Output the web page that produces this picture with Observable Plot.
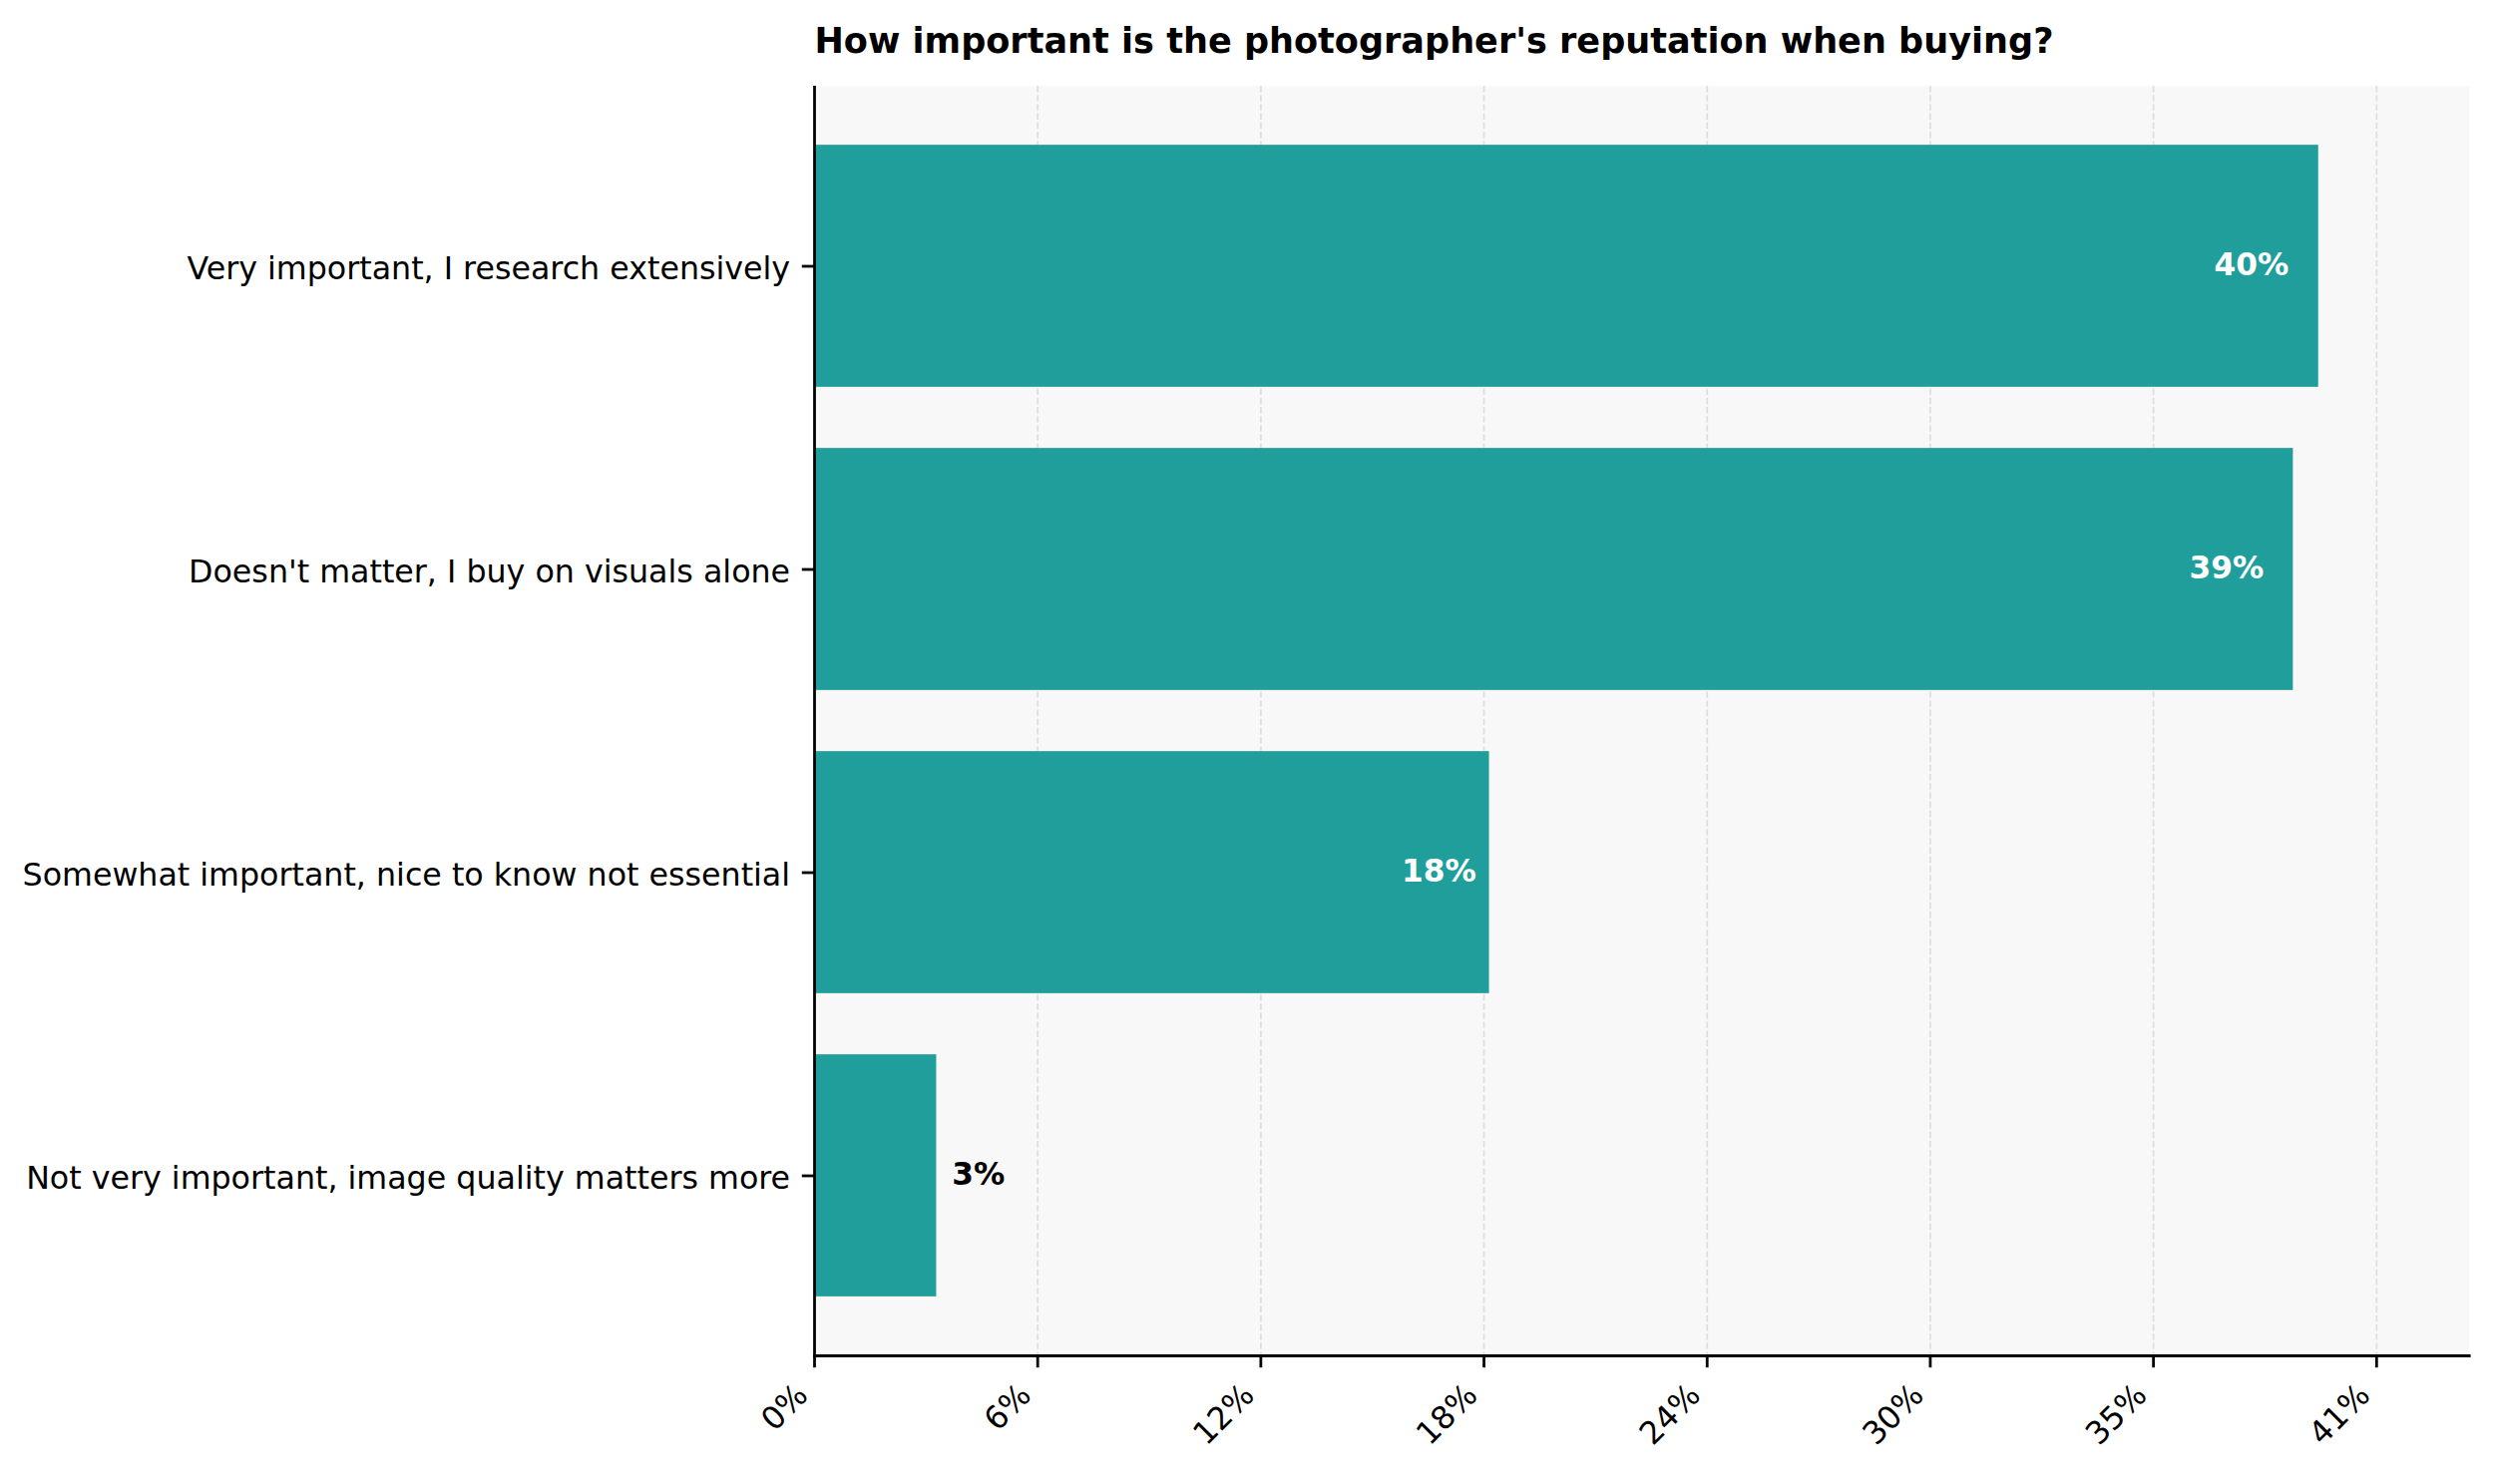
<!DOCTYPE html>
<html>
<head>
<meta charset="utf-8">
<script src="https://cdn.jsdelivr.net/npm/d3@7"></script>
<script src="https://cdn.jsdelivr.net/npm/@observablehq/plot@0.6"></script>
<style>
  html, body { margin: 0; padding: 0; background: #ffffff; }
  #chart svg { display: block; }
</style>
</head>
<body>
<div id="chart"></div>
<script>
const title = "How important is the photographer's reputation when buying?";
const categories = [
  "Very important, I research extensively",
  "Doesn't matter, I buy on visuals alone",
  "Somewhat important, nice to know not essential",
  "Not very important, image quality matters more"
];
const values = [39.84, 39.17, 17.88, 3.24];
const xTickValues = [0, 5.91, 11.82, 17.73, 23.64, 29.55, 35.46, 41.37];
const xTickLabels = ["0%", "6%", "12%", "18%", "24%", "30%", "35%", "41%"];

const data = categories.map((c, i) => ({category: c, value: values[i], label: Math.round(values[i]) + "%"}));
const maxV = d3.max(values);
const inside = data.filter(d => d.value > maxV * 0.15);
const outside = data.filter(d => d.value <= maxV * 0.15);

const teal = "#1f9e9b";
const lw = 2.78;
const fs = 31.25;
const fsY = 31.7;

const chart = Plot.plot({
  width: 2500,
  height: 1488,
  marginLeft: 816,
  marginRight: 25.3,
  marginTop: 86,
  marginBottom: 129,
  style: {fontFamily: "DejaVu Sans", background: "#ffffff", overflow: "visible", color: "#000000"},
  x: {domain: [0, maxV * 1.1]},
  y: {domain: categories, paddingInner: 0.2, paddingOuter: 0.19},
  marks: [
    Plot.frame({fill: "#f8f8f8", stroke: null}),
    Plot.gridX(xTickValues.slice(1), {stroke: "#dedede", strokeOpacity: 1, strokeWidth: 1.74, strokeDasharray: "6.4,2.8"}),
    Plot.barX(data, {x: "value", y: "category", fill: teal, stroke: "#ffffff", strokeOpacity: 0.3, strokeWidth: 1}),
    Plot.ruleX([0], {stroke: "#000000", strokeWidth: lw}),
    Plot.frame({anchor: "bottom", stroke: "#000000", strokeWidth: lw}),
    Plot.axisX({ticks: xTickValues, tickSize: 12.2, strokeWidth: lw, stroke: "#000000", fill: "none", label: null}),
    Plot.text(xTickValues, {
      x: d => d,
      text: (d, i) => xTickLabels[i],
      frameAnchor: "bottom",
      rotate: -45,
      textAnchor: "end",
      lineAnchor: "bottom",
      dx: -4.9,
      dy: 41.3,
      fontSize: 31.6,
      fill: "#000000"
    }),
    Plot.axisY({tickSize: 12.2, strokeWidth: lw, stroke: "#000000", fill: "none", label: null}),
    Plot.axisY({tickSize: 12.2, tickPadding: 12.2, stroke: "none", fill: "#000000", fontSize: fsY, dy: 2.4, label: null}),
    Plot.text(inside, {
      x: d => d.value * 0.98,
      y: "category",
      text: "label",
      textAnchor: "end",
      lineAnchor: "middle",
      dy: -1,
      fill: "#ffffff",
      fontWeight: "bold",
      fontSize: fs
    }),
    Plot.text(outside, {
      x: d => d.value + maxV * 0.01,
      y: "category",
      text: "label",
      textAnchor: "start",
      lineAnchor: "middle",
      dy: -1,
      fill: "#000000",
      fontWeight: "bold",
      fontSize: fs
    }),
    Plot.text([title], {
      text: d => d,
      frameAnchor: "top-left",
      textAnchor: "start",
      lineAnchor: "bottom",
      dy: -34,
      fontWeight: "bold",
      fontSize: 35.1,
      fill: "#000000"
    })
  ]
});
document.getElementById("chart").appendChild(chart);
</script>
</body>
</html>
